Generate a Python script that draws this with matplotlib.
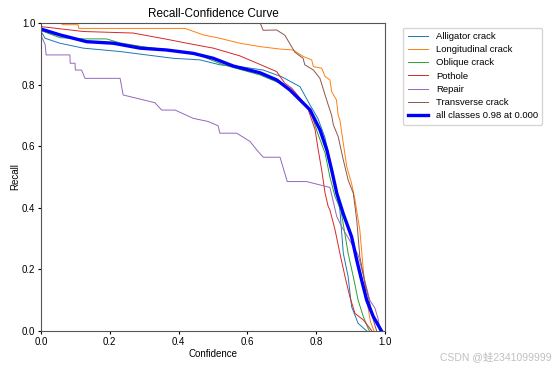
import matplotlib
matplotlib.use("Agg")
import matplotlib.pyplot as plt

plt.rcParams['font.family'] = ['Liberation Sans', 'Noto Sans CJK SC', 'DejaVu Sans']

classes = ["Alligator crack", "Longitudinal crack", "Oblique crack", "Pothole", "Repair", "Transverse crack"]

conf_alligator = [0, 0.012, 0.055, 0.123, 0.23, 0.307, 0.385, 0.462, 0.52, 0.578, 0.646, 0.70, 0.753, 0.782,
                  0.805, 0.825, 0.847, 0.869, 0.879, 0.893, 0.903, 0.922, 0.947]
rec_alligator = [0.972, 0.95, 0.934, 0.918, 0.907, 0.896, 0.885, 0.88, 0.864, 0.858, 0.847, 0.825, 0.793, 0.734,
                 0.69, 0.63, 0.52, 0.393, 0.252, 0.176, 0.079, 0.025, 0.0]

conf_longitudinal = [0, 0.06, 0.062, 0.108, 0.11, 0.419, 0.472, 0.52, 0.578, 0.637, 0.695, 0.733, 0.762, 0.787,
                     0.792, 0.816, 0.826, 0.84, 0.845, 0.859, 0.864, 0.869, 0.879, 0.889, 0.903, 0.913, 0.927,
                     0.937, 0.947, 0.958, 0.968]
rec_longitudinal = [1.0, 1.0, 0.994, 0.994, 0.982, 0.982, 0.961, 0.95, 0.934, 0.923, 0.915, 0.912, 0.891, 0.88,
                    0.858, 0.853, 0.826, 0.815, 0.777, 0.75, 0.70, 0.685, 0.609, 0.533, 0.479, 0.425, 0.328,
                    0.198, 0.10, 0.03, 0.0]

conf_oblique = [0, 0.055, 0.128, 0.19, 0.23, 0.30, 0.40, 0.46, 0.53, 0.637, 0.695, 0.724, 0.753, 0.782, 0.805,
                0.826, 0.84, 0.855, 0.872, 0.893, 0.908, 0.922, 0.937, 0.951, 0.955]
rec_oblique = [0.975, 0.952, 0.948, 0.948, 0.935, 0.922, 0.908, 0.895, 0.864, 0.831, 0.804, 0.782, 0.75, 0.718,
               0.64, 0.577, 0.50, 0.436, 0.393, 0.252, 0.176, 0.10, 0.047, 0.009, 0.0]

conf_pothole = [0, 0.123, 0.268, 0.365, 0.424, 0.501, 0.578, 0.637, 0.685, 0.709, 0.729, 0.762, 0.777, 0.797,
                0.806, 0.816, 0.826, 0.835, 0.84, 0.855, 0.869, 0.884, 0.898, 0.913, 0.937, 0.956, 0.962]
rec_pothole = [0.988, 0.972, 0.967, 0.947, 0.934, 0.918, 0.893, 0.865, 0.842, 0.804, 0.788, 0.744, 0.718, 0.653,
               0.588, 0.523, 0.447, 0.404, 0.393, 0.328, 0.252, 0.176, 0.111, 0.057, 0.036, 0.009, 0.0]

conf_repair = [0, 0.012, 0.015, 0.084, 0.085, 0.099, 0.10, 0.118, 0.128, 0.23, 0.239, 0.331, 0.351, 0.39,
               0.443, 0.486, 0.515, 0.52, 0.569, 0.608, 0.627, 0.646, 0.695, 0.716, 0.772, 0.84, 0.86, 0.874,
               0.908, 0.922, 0.956, 0.971, 0.981, 0.985]
rec_repair = [0.96, 0.93, 0.896, 0.896, 0.869, 0.869, 0.847, 0.847, 0.82, 0.82, 0.766, 0.741, 0.717, 0.717,
              0.69, 0.68, 0.666, 0.642, 0.642, 0.615, 0.588, 0.564, 0.564, 0.485, 0.485, 0.466, 0.371, 0.339,
              0.274, 0.247, 0.10, 0.074, 0.036, 0.0]

conf_transverse = [0, 0.637, 0.646, 0.685, 0.709, 0.738, 0.762, 0.767, 0.792, 0.811, 0.826, 0.835, 0.845, 0.85,
                   0.864, 0.879, 0.893, 0.908, 0.918, 0.927, 0.942, 0.956, 0.966, 0.976]
rec_transverse = [1.0, 1.0, 0.976, 0.977, 0.96, 0.905, 0.885, 0.864, 0.847, 0.82, 0.766, 0.734, 0.70, 0.669,
                  0.631, 0.555, 0.49, 0.447, 0.36, 0.241, 0.155, 0.09, 0.036, 0.0]

conf_all = [0, 0.055, 0.133, 0.21, 0.288, 0.365, 0.443, 0.501, 0.559, 0.637, 0.685, 0.724, 0.762, 0.782, 0.811,
            0.831, 0.845, 0.86, 0.879, 0.903, 0.918, 0.932, 0.947, 0.966, 0.99]
rec_all = [0.98, 0.961, 0.939, 0.934, 0.918, 0.912, 0.901, 0.885, 0.86, 0.838, 0.815, 0.782, 0.74, 0.718, 0.653,
           0.588, 0.523, 0.447, 0.38, 0.306, 0.23, 0.166, 0.10, 0.047, 0.0]

curves = [(conf_alligator, rec_alligator), (conf_longitudinal, rec_longitudinal), (conf_oblique, rec_oblique),
          (conf_pothole, rec_pothole), (conf_repair, rec_repair), (conf_transverse, rec_transverse)]

fig = plt.figure(figsize=(5.53, 3.69), dpi=100)
ax = fig.add_axes([0.0741, 0.103, 0.622, 0.835])

for name, (c, r) in zip(classes, curves):
    ax.plot(c, r, linewidth=0.7, label=name)
ax.plot(conf_all, rec_all, linewidth=2.4, color="blue", label="all classes 0.98 at 0.000")

ax.set_xlim(0, 1)
ax.set_ylim(0, 1)
ax.set_xlabel("Confidence", fontsize=7, labelpad=2)
ax.set_ylabel("Recall", fontsize=7, labelpad=1)
ax.set_title("Recall-Confidence Curve", fontsize=8.5, pad=4)
ax.tick_params(labelsize=7, length=2.5, pad=1.5)
for s in ax.spines.values():
    s.set_edgecolor("#555555")
    s.set_linewidth(0.8)

ax.legend(bbox_to_anchor=(1.04, 1), loc="upper left", fontsize=6.8, handlelength=2.2,
          labelspacing=0.45, borderpad=0.45)

fig.text(0.998, 0.034, "CSDN @蛙2341099999", ha="right", va="center", fontsize=7.5, color="#c0c0c0")

fig.savefig("out.png", dpi=100)
